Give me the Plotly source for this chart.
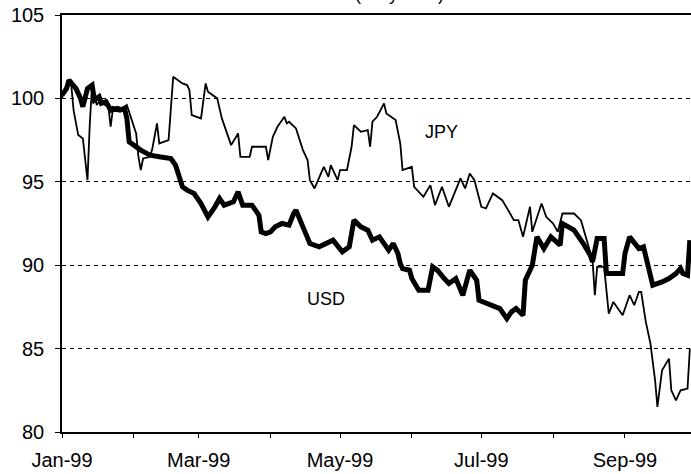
import plotly.graph_objects as go

usd_dates = ["1999-01-01","1999-01-03","1999-01-04","1999-01-07","1999-01-09","1999-01-10","1999-01-12","1999-01-14",
             "1999-01-15","1999-01-17","1999-01-18","1999-01-20","1999-01-22","1999-01-23","1999-01-26","1999-01-28",
             "1999-01-29","1999-01-30","1999-02-04","1999-02-08","1999-02-12","1999-02-17","1999-02-19","1999-02-20",
             "1999-02-22","1999-02-24","1999-02-27","1999-03-02","1999-03-05","1999-03-08","1999-03-10","1999-03-12",
             "1999-03-16","1999-03-18","1999-03-20","1999-03-24","1999-03-27","1999-03-28","1999-03-30","1999-04-01",
             "1999-04-03","1999-04-06","1999-04-09","1999-04-11","1999-04-12","1999-04-15","1999-04-18","1999-04-22",
             "1999-04-28","1999-05-02","1999-05-05","1999-05-07","1999-05-10","1999-05-13","1999-05-15","1999-05-18",
             "1999-05-20","1999-05-22","1999-05-24","1999-05-26","1999-05-27","1999-05-28","1999-05-31","1999-06-01",
             "1999-06-04","1999-06-08","1999-06-10","1999-06-12","1999-06-15","1999-06-17","1999-06-20","1999-06-23",
             "1999-06-26","1999-06-29","1999-06-30","1999-07-06","1999-07-09","1999-07-12","1999-07-14","1999-07-16",
             "1999-07-19","1999-07-20","1999-07-23","1999-07-25","1999-07-28","1999-07-31","1999-08-02","1999-08-04",
             "1999-08-05","1999-08-08","1999-08-10","1999-08-14","1999-08-17","1999-08-18","1999-08-20","1999-08-23",
             "1999-08-24","1999-08-31","1999-09-01","1999-09-03","1999-09-07","1999-09-09","1999-09-11","1999-09-13",
             "1999-09-17","1999-09-20","1999-09-23","1999-09-25","1999-09-26","1999-09-28","1999-09-29"]
usd_values = [100.2,100.6,101.1,100.6,100.0,99.5,100.6,100.8,
              99.9,100.1,99.7,99.8,99.3,99.4,99.3,99.4,
              98.8,97.4,96.9,96.6,96.5,96.4,96.0,95.5,
              94.7,94.5,94.3,93.7,92.9,93.5,94.0,93.6,
              93.8,94.4,93.6,93.6,93.0,92.0,91.9,92.0,
              92.3,92.5,92.4,93.1,93.3,92.3,91.3,91.1,
              91.5,90.8,91.1,92.7,92.3,92.1,91.5,91.7,
              91.3,90.9,91.3,90.7,90.1,89.8,89.7,89.2,
              88.5,88.5,89.9,89.7,89.2,88.9,89.2,88.2,
              89.7,89.1,87.9,87.6,87.4,86.8,87.2,87.4,
              87.0,89.1,90.0,91.7,91.0,91.7,91.4,91.2,
              92.5,92.3,92.1,91.3,90.6,90.2,91.6,91.6,
              89.5,89.5,90.7,91.7,91.0,91.1,90.0,88.8,
              89.0,89.2,89.5,89.8,89.5,89.4,91.5]

jpy_dates = ["1999-01-01","1999-01-02","1999-01-04","1999-01-05","1999-01-06","1999-01-07","1999-01-08","1999-01-10",
             "1999-01-11","1999-01-12","1999-01-13","1999-01-14","1999-01-15","1999-01-16","1999-01-17","1999-01-20",
             "1999-01-21","1999-01-22","1999-01-23","1999-01-25","1999-01-27","1999-01-29","1999-01-31","1999-02-02",
             "1999-02-03","1999-02-04","1999-02-05","1999-02-08","1999-02-09","1999-02-11","1999-02-12","1999-02-14",
             "1999-02-16","1999-02-18","1999-02-22","1999-02-24","1999-02-25","1999-02-26","1999-03-02","1999-03-04",
             "1999-03-05","1999-03-09","1999-03-11","1999-03-15","1999-03-18","1999-03-19","1999-03-23","1999-03-24",
             "1999-03-27","1999-03-30","1999-03-31","1999-04-02","1999-04-04","1999-04-07","1999-04-08","1999-04-09",
             "1999-04-12","1999-04-15","1999-04-17","1999-04-18","1999-04-20","1999-04-24","1999-04-26","1999-04-27",
             "1999-04-30","1999-05-01","1999-05-04","1999-05-06","1999-05-07","1999-05-10","1999-05-13","1999-05-14",
             "1999-05-15","1999-05-17","1999-05-20","1999-05-21","1999-05-25","1999-05-27","1999-05-28","1999-06-01",
             "1999-06-02","1999-06-06","1999-06-09","1999-06-11","1999-06-14","1999-06-17","1999-06-22","1999-06-24",
             "1999-06-26","1999-06-28","1999-07-01","1999-07-03","1999-07-06","1999-07-10","1999-07-13","1999-07-15",
             "1999-07-17","1999-07-19","1999-07-22","1999-07-23","1999-07-27","1999-07-29","1999-08-01","1999-08-03",
             "1999-08-05","1999-08-10","1999-08-13","1999-08-18","1999-08-19","1999-08-20","1999-08-23","1999-08-25",
             "1999-08-27","1999-08-31","1999-09-03","1999-09-05","1999-09-07","1999-09-08","1999-09-10","1999-09-12",
             "1999-09-14","1999-09-15","1999-09-17","1999-09-20","1999-09-21","1999-09-23","1999-09-25","1999-09-28",
             "1999-09-29"]
jpy_values = [100.0,100.5,101.1,100.8,99.3,98.5,97.8,97.6,
              96.5,95.1,98.5,100.8,100.2,99.6,99.8,99.6,
              99.5,98.3,99.4,99.5,99.4,99.6,98.8,97.9,
              96.5,95.7,96.4,96.5,97.0,98.5,97.3,97.4,
              97.5,101.3,100.9,100.8,100.5,99.0,98.8,100.9,
              100.4,100.0,98.8,97.2,97.9,96.5,96.5,97.1,
              97.1,97.1,96.3,97.7,98.3,98.9,98.5,98.6,
              98.2,96.9,96.3,95.1,94.6,95.9,95.3,96.0,
              95.1,95.7,95.7,97.1,98.4,98.0,98.1,97.1,
              98.6,98.9,99.7,99.1,98.7,97.3,95.7,95.9,
              94.7,94.1,94.8,93.6,94.7,93.5,95.2,94.6,
              95.5,95.1,93.5,93.4,94.3,93.9,93.2,92.7,
              92.7,91.7,93.5,92.0,93.7,92.9,92.5,92.0,
              93.1,93.1,92.7,90.3,88.2,89.9,89.9,87.1,
              87.8,87.0,88.2,87.6,88.4,88.4,86.6,85.3,
              83.1,81.5,83.7,84.4,82.5,81.9,82.5,82.6,
              85.0]

month_ticks = ["1999-01-01","1999-02-01","1999-03-01","1999-04-01","1999-05-01",
               "1999-06-01","1999-07-01","1999-08-01","1999-09-01"]
month_labels = ["Jan-99","","Mar-99","","May-99","","Jul-99","","Sep-99"]
y_ticks = [80, 85, 90, 95, 100, 105]

FONT = "Liberation Sans, Arial, sans-serif"

fig = go.Figure()
fig.add_trace(go.Scatter(x=jpy_dates, y=jpy_values, mode="lines", name="JPY",
                         line=dict(color="black", width=1.8)))
fig.add_trace(go.Scatter(x=usd_dates, y=usd_values, mode="lines", name="USD",
                         line=dict(color="black", width=5)))

fig.add_annotation(text="JPY", x="1999-06-14", y=98.0, showarrow=False,
                   font=dict(family=FONT, size=18, color="black"))
fig.add_annotation(text="USD", x="1999-04-25", y=88.0, showarrow=False,
                   font=dict(family=FONT, size=18, color="black"))
fig.add_annotation(text="(daily data)", xref="paper", yref="paper", x=0.536, y=1,
                   yanchor="bottom", yshift=9, showarrow=False,
                   font=dict(family=FONT, size=18, color="black"))

fig.update_layout(
    width=691, height=474,
    margin=dict(l=62, r=0, t=15, b=42, autoexpand=False),
    plot_bgcolor="white", paper_bgcolor="white",
    showlegend=False,
    font=dict(family=FONT, size=20, color="black"),
)
fig.update_xaxes(
    type="date", range=["1999-01-01", "1999-09-29 12:00"],
    tickvals=month_ticks, ticktext=month_labels,
    ticks="outside", ticklen=4, tickcolor="black", tickwidth=1,
    ticklabelstandoff=5,
    showline=True, linecolor="black", linewidth=1.5, mirror=True,
    showgrid=False, zeroline=False, automargin=False,
)
fig.update_yaxes(
    range=[80, 105], tickvals=y_ticks,
    ticks="outside", ticklen=5, tickcolor="black", tickwidth=1,
    ticklabelstandoff=7,
    showline=True, linecolor="black", linewidth=1.5,
    showgrid=True, gridcolor="black", gridwidth=1, griddash="4px,4px",
    zeroline=False, automargin=False,
)

fig.write_html("out.html", config={"displayModeBar": False},
               post_script="document.body.style.margin='0';")
